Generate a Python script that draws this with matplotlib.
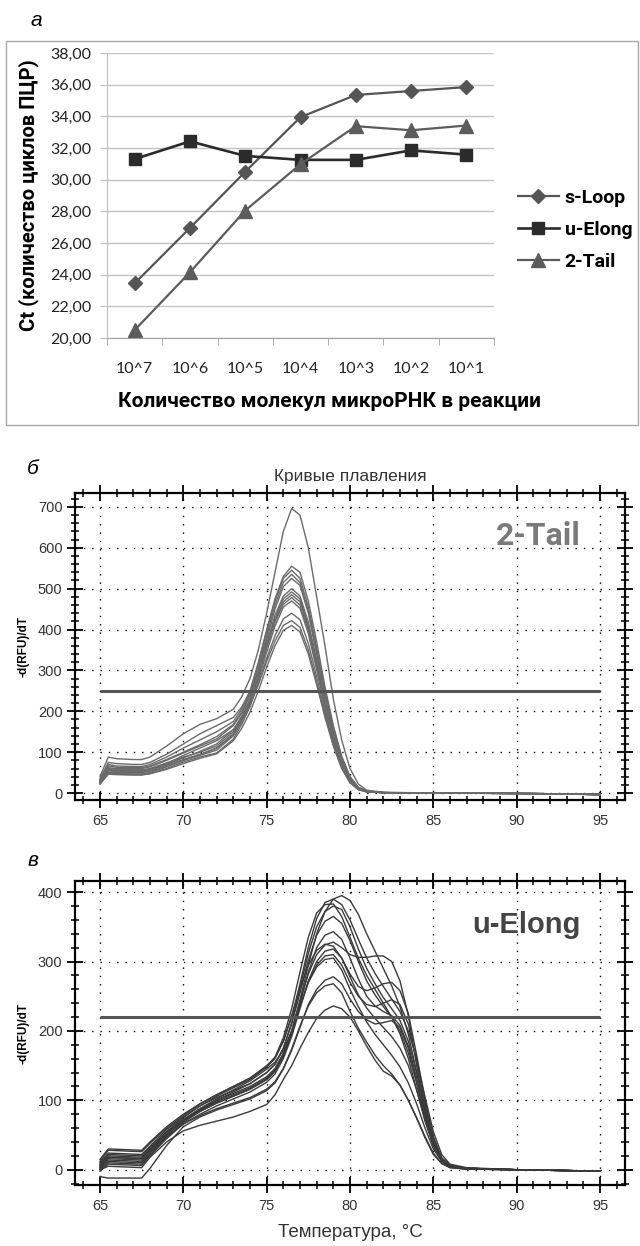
import matplotlib
matplotlib.use("Agg")
import matplotlib.pyplot as plt
from matplotlib.patches import Rectangle
from matplotlib.ticker import MultipleLocator

# ---- panel a: Ct vs number of miRNA molecules ----
categories = ["10^7", "10^6", "10^5", "10^4", "10^3", "10^2", "10^1"]
s_loop = [23.45, 26.95, 30.5, 33.95, 35.35, 35.6, 35.85]
u_elong = [31.3, 32.42, 31.5, 31.25, 31.25, 31.85, 31.58]
two_tail = [20.5, 24.15, 28.05, 30.98, 33.38, 33.12, 33.42]

# ---- panel b: melt curves 2-Tail ----
temp_b = [65, 65.5, 66, 67, 67.5, 68, 69, 70, 71, 72, 73, 73.5, 74, 74.5, 75, 75.5,
          76, 76.5, 77, 77.5, 78, 78.5, 79, 79.5, 80, 80.5, 81, 82, 85, 90, 93, 95]
curves_b = [
    [40, 88, 84, 82, 82, 88, 115, 145, 168, 182, 205, 235, 280, 350, 440, 540, 640, 696, 680, 600, 480, 360, 230, 130, 60, 22, 7, 2, 0, -1, -2, -5],
    [35, 75, 72, 70, 70, 75, 95, 120, 145, 165, 185, 210, 250, 320, 400, 475, 530, 555, 540, 470, 370, 260, 165, 90, 40, 14, 5, 1, 0, -1, -2, -4],
    [30, 70, 66, 65, 65, 70, 88, 110, 130, 150, 175, 205, 245, 315, 395, 470, 525, 545, 525, 455, 355, 250, 160, 88, 40, 14, 5, 1, 0, -1, -2, -4],
    [28, 62, 60, 60, 60, 64, 80, 98, 115, 132, 165, 195, 240, 305, 385, 460, 515, 535, 515, 445, 345, 240, 150, 82, 36, 12, 4, 1, 0, -1, -2, -3],
    [32, 66, 63, 62, 62, 66, 82, 100, 118, 138, 168, 198, 238, 300, 375, 450, 505, 525, 508, 440, 340, 235, 148, 80, 35, 12, 4, 1, 0, -1, -2, -4],
    [25, 55, 52, 52, 52, 55, 68, 82, 95, 110, 145, 180, 225, 290, 365, 435, 482, 500, 482, 418, 325, 225, 140, 75, 32, 11, 4, 1, 0, -1, -2, -3],
    [30, 60, 58, 57, 57, 60, 74, 88, 100, 115, 150, 185, 228, 290, 362, 428, 475, 492, 475, 410, 320, 222, 138, 74, 32, 11, 4, 1, 0, -1, -2, -4],
    [22, 50, 48, 47, 47, 50, 64, 80, 92, 105, 140, 175, 220, 283, 355, 420, 468, 485, 468, 405, 315, 218, 135, 72, 30, 10, 3, 1, 0, -1, -2, -3],
    [28, 56, 54, 53, 53, 57, 70, 86, 102, 120, 155, 188, 230, 290, 358, 418, 462, 478, 460, 398, 308, 212, 132, 70, 30, 10, 3, 1, 0, -1, -2, -4],
    [24, 48, 46, 45, 45, 48, 60, 76, 88, 98, 132, 168, 212, 275, 345, 408, 455, 470, 452, 390, 302, 208, 128, 68, 28, 9, 3, 1, 0, -1, -2, -3],
    [26, 52, 50, 50, 50, 53, 65, 80, 94, 110, 142, 172, 212, 268, 330, 385, 426, 440, 424, 366, 285, 198, 122, 64, 27, 9, 3, 1, 0, -1, -2, -3],
    [30, 58, 56, 55, 55, 58, 72, 92, 110, 128, 155, 180, 215, 265, 322, 372, 410, 422, 405, 350, 272, 190, 118, 62, 26, 9, 3, 1, 0, -1, -2, -4],
    [22, 46, 45, 44, 44, 47, 58, 72, 85, 96, 128, 158, 198, 250, 308, 360, 398, 410, 394, 340, 265, 185, 115, 60, 25, 8, 3, 1, 0, -1, -2, -3],
]
threshold_b = 250

# ---- panel c: melt curves u-Elong ----
temp_c = [65, 65.5, 67.5, 68, 69, 70, 71, 72, 73, 74, 75, 75.5, 76, 76.5, 77, 77.5,
          78, 78.5, 79, 79.5, 80, 80.5, 81, 81.5, 82, 82.5, 83, 83.5, 84, 84.5, 85,
          85.5, 86, 87, 90, 95]
curves_c = [
    [8, 22, 20, 32, 55, 72, 88, 102, 115, 128, 145, 155, 172, 200, 245, 295, 340, 372, 390, 395, 388, 368, 340, 315, 290, 265, 235, 195, 140, 85, 42, 16, 6, 2, 0, -2],
    [12, 28, 26, 38, 60, 78, 95, 108, 120, 132, 150, 162, 185, 220, 268, 320, 362, 385, 390, 382, 360, 332, 305, 283, 264, 246, 228, 200, 160, 105, 55, 22, 8, 3, 0, -2],
    [5, 18, 16, 30, 55, 75, 92, 106, 118, 130, 148, 162, 190, 232, 285, 335, 370, 382, 383, 365, 335, 305, 280, 260, 240, 220, 196, 160, 115, 70, 35, 14, 5, 2, 0, -2],
    [3, 14, 12, 26, 50, 70, 86, 100, 112, 124, 140, 152, 175, 212, 262, 312, 350, 372, 380, 375, 350, 318, 290, 268, 248, 232, 215, 185, 140, 90, 45, 17, 6, 2, 0, -2],
    [10, 24, 22, 34, 58, 76, 92, 104, 114, 124, 140, 152, 175, 210, 255, 302, 338, 358, 365, 355, 330, 300, 272, 252, 235, 220, 200, 168, 125, 78, 38, 15, 5, 2, 0, -2],
    [0, 10, 8, 22, 46, 68, 84, 96, 106, 116, 130, 142, 165, 198, 240, 285, 320, 338, 343, 332, 305, 275, 250, 236, 228, 222, 208, 178, 132, 82, 40, 15, 5, 2, 0, -2],
    [6, 18, 16, 28, 52, 72, 88, 100, 110, 120, 134, 146, 168, 200, 242, 282, 310, 324, 328, 320, 310, 306, 306, 308, 308, 300, 272, 222, 150, 85, 38, 14, 5, 2, 0, -2],
    [15, 30, 28, 40, 62, 80, 95, 108, 120, 132, 148, 160, 185, 222, 262, 295, 316, 325, 322, 305, 282, 264, 258, 262, 268, 270, 258, 225, 165, 100, 48, 17, 6, 2, 0, -2],
    [-2, 8, 6, 20, 45, 66, 80, 92, 102, 112, 126, 138, 160, 192, 232, 272, 300, 315, 318, 305, 278, 252, 233, 218, 205, 192, 175, 150, 115, 72, 35, 13, 4, 1, 0, -2],
    [4, 16, 14, 26, 50, 70, 84, 96, 106, 116, 130, 142, 164, 195, 235, 270, 295, 308, 310, 295, 270, 250, 238, 235, 240, 245, 238, 210, 155, 95, 45, 16, 5, 2, 0, -2],
    [8, 20, 18, 30, 54, 72, 86, 98, 108, 118, 132, 144, 166, 198, 236, 270, 292, 303, 305, 288, 260, 235, 213, 195, 180, 165, 148, 125, 95, 60, 30, 12, 4, 1, 0, -2],
    [-10, -12, -12, 2, 35, 62, 76, 86, 94, 102, 114, 125, 145, 172, 205, 238, 260, 273, 278, 268, 246, 228, 216, 210, 212, 215, 205, 175, 125, 75, 35, 13, 4, 1, 0, -2],
    [2, 12, 10, 24, 48, 66, 78, 88, 96, 104, 116, 127, 146, 174, 207, 236, 255, 265, 268, 255, 228, 204, 184, 165, 150, 138, 122, 100, 74, 46, 22, 9, 3, 1, 0, -2],
    [0, 5, 3, 18, 40, 56, 64, 70, 76, 84, 94, 108, 130, 150, 175, 198, 218, 230, 236, 232, 220, 200, 178, 158, 142, 135, 122, 100, 75, 48, 24, 9, 3, 1, 0, -2],
]
threshold_c = 220

W, H = 640, 1246
fig = plt.figure(figsize=(W / 100, H / 100), dpi=100)


def box(l, t, r, b):
    return [l / W, 1 - b / H, (r - l) / W, (b - t) / H]


narrow = ["Roboto", "DejaVu Sans"]
arial = ["Liberation Sans", "DejaVu Sans"]

# panel letters
fig.text(36 / W, 1 - 20 / H, "а", fontsize=15, style="italic", family=arial, ha="center", va="center")
fig.text(33 / W, 1 - 468 / H, "б", fontsize=15, style="italic", family=arial, ha="center", va="center")
fig.text(33 / W, 1 - 860 / H, "в", fontsize=15, style="italic", family=arial, ha="center", va="center")

# frame around panel a
fig.patches.append(Rectangle((6 / W, 1 - 425 / H), 632 / W, 384 / H, transform=fig.transFigure,
                             fill=False, edgecolor="#a8a8a8", linewidth=1))

# ---------------- panel a ----------------
ax = fig.add_axes(box(107, 53, 494, 338))
xs = list(range(len(categories)))
ax.plot(xs, s_loop, color="#555555", lw=1.6, marker="D", ms=6.8, label="s-Loop")
ax.plot(xs, u_elong, color="#2b2b2b", lw=1.9, marker="s", ms=8.6, label="u-Elong")
ax.plot(xs, two_tail, color="#5c5c5c", lw=1.6, marker="^", ms=9.4, label="2-Tail")
ax.set_xlim(-0.5, len(categories) - 0.5)
ax.set_ylim(20, 38)
ax.set_yticks(range(20, 39, 2))
ax.set_yticklabels(["{:.2f}".format(v).replace(".", ",") for v in range(20, 39, 2)],
                   family=["Lato", "DejaVu Sans"], fontsize=11.5, color="#222222")
ax.set_xticks(xs)
ax.set_xticklabels(categories, family=["Lato", "DejaVu Sans"], fontsize=11.5, color="#222222")
ax.set_xticks([x - 0.5 for x in range(len(categories) + 1)], minor=True)
ax.tick_params(axis="x", which="major", length=0, pad=17)
ax.tick_params(axis="x", which="minor", length=5, color="#a0a0a0")
ax.tick_params(axis="y", length=5, color="#bfbfbf", pad=6)
ax.grid(axis="y", color="#c4c4c4", lw=1)
ax.set_axisbelow(True)
for s in ["top", "right"]:
    ax.spines[s].set_visible(False)
ax.spines["left"].set_color("#bfbfbf")
ax.spines["bottom"].set_color("#a0a0a0")
fig.text(330 / W, 1 - 402 / H, "Количество молекул микроРНК в реакции", family=narrow,
         fontweight="bold", fontsize=15, ha="center", va="center")
ax.set_ylabel("Ct (количество циклов ПЦР)", family=narrow, fontweight="bold", fontsize=14.5,
              labelpad=8)
ax.legend(loc="center left", bbox_to_anchor=(518 / W, 1 - 230 / H), bbox_transform=fig.transFigure,
          frameon=False, prop={"family": narrow, "weight": "bold", "size": 14},
          handlelength=2.1, handletextpad=0.3, labelspacing=0.72, borderpad=0, borderaxespad=0)


def melt_axes(rect, ylim, ymajor):
    a = fig.add_axes(rect)
    a.set_xlim(63.5, 96.5)
    a.set_ylim(*ylim)
    a.xaxis.set_major_locator(MultipleLocator(5))
    a.xaxis.set_minor_locator(MultipleLocator(1))
    a.yaxis.set_major_locator(MultipleLocator(ymajor))
    a.yaxis.set_minor_locator(MultipleLocator(20))
    a.grid(True, which="major", color="black", linestyle=(0, (1, 5)), lw=1)
    a.tick_params(which="major", direction="inout", length=12, width=1.3, labelsize=10.5,
                  labelcolor="#333333", top=True, right=True)
    a.tick_params(which="minor", direction="inout", length=6, width=1.1, top=True, right=True)
    a.tick_params(axis="x", which="both", pad=4)
    a.tick_params(axis="y", which="both", pad=3)
    for lab in a.get_xticklabels() + a.get_yticklabels():
        lab.set_family(arial)
    for s in a.spines.values():
        s.set_linewidth(1.6)
    a.set_ylabel("-d(RFU)/dT", family=arial, fontweight="bold", fontsize=8.5, labelpad=6)
    return a


# ---------------- panel b ----------------
axb = melt_axes(box(75, 493, 625, 800), (-17, 734), 100)
for c in curves_b:
    axb.plot(temp_b, c, color="#6a6a6a", lw=1.0)
axb.hlines(threshold_b, temp_b[0], temp_b[-1], color="#555555", lw=2.2)
axb.text(0.92, 0.86, "2-Tail", transform=axb.transAxes, ha="right", va="center",
         fontsize=23, fontweight="bold", color="#7a7a7a", family=narrow)
fig.text(350 / W, 1 - 477 / H, "Кривые плавления", ha="center", va="center", fontsize=12.5,
         family=arial, color="#333333")

# ---------------- panel c ----------------
axc = melt_axes(box(75, 881, 625, 1185), (-22, 416), 100)
for c in curves_c:
    axc.plot(temp_c, c, color="#3a3a3a", lw=1.0)
axc.hlines(threshold_c, temp_c[0], temp_c[-1], color="#555555", lw=2.2)
axc.text(0.92, 0.855, "u-Elong", transform=axc.transAxes, ha="right", va="center",
         fontsize=21, fontweight="bold", color="#444444", family=arial)
axc.set_xlabel("Температура, °C", family=arial, fontsize=13.5, color="#333333", labelpad=8)

fig.savefig("out.png", dpi=100)
